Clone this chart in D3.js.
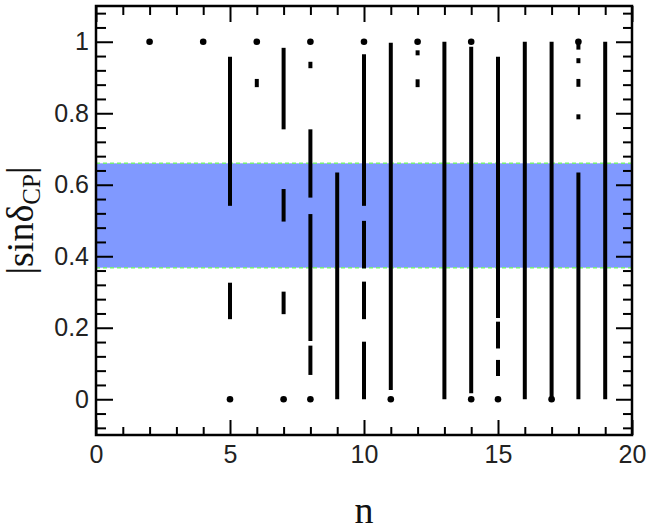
<!DOCTYPE html>
<html>
<head>
<meta charset="utf-8">
<script src="https://cdn.jsdelivr.net/npm/d3@7"></script>
<style>
  html, body { margin: 0; padding: 0; background: #ffffff; }
  svg { display: block; }
</style>
</head>
<body>
<svg id="chart" width="655" height="530"></svg>
<script>
// ---- data ----
const xDomain = [0, 20];
const yDomain = [-0.1, 1.1];
const xMajorTicks = [0, 5, 10, 15, 20];
const yMajorTicks = [0, 0.2, 0.4, 0.6, 0.8, 1];
const yTickLabels = ["0", "0.2", "0.4", "0.6", "0.8", "1"];
const bandRange = [0.368, 0.66];

// vertical segments: n, low, high
const segN  = [5, 5, 6, 7, 7, 7, 8, 8, 8, 8, 9, 10, 10, 10, 10, 11, 12, 12, 13, 14, 15, 15, 15, 16, 17, 18, 18, 18, 18, 18, 19];
const segLo = [0.224, 0.541, 0.873, 0.755, 0.497, 0.238, 0.926, 0.564, 0.163, 0.068, 0.0, 0.541, 0.366, 0.224, 0.0, 0.026, 0.962, 0.873, 0.0, 0.017, 0.227, 0.142, 0.065, 0.0, 0.0, 0.978, 0.940, 0.874, 0.783, 0.0, 0.0];
const segHi = [0.326, 0.958, 0.896, 0.983, 0.588, 0.301, 0.944, 0.755, 0.518, 0.150, 0.634, 0.965, 0.499, 0.329, 0.161, 0.997, 0.976, 0.895, 1.0, 0.986, 0.958, 0.217, 0.110, 1.0, 1.0, 0.995, 0.954, 0.896, 0.797, 0.634, 1.0];

// isolated points: n, value
const dotN = [2, 4, 6, 8, 10, 12, 14, 18, 5, 7, 8, 11, 14, 15, 17];
const dotV = [1, 1, 1, 1, 1, 1, 1, 1, 0, 0, 0, 0, 0, 0, 0];

// ---- layout ----
const svg = d3.select("#chart");
const L = 96, R = 632, T = 6, B = 435;
const x = d3.scaleLinear().domain(xDomain).range([L, R]);
const y = d3.scaleLinear().domain(yDomain).range([B, T]);

// band
svg.append("rect")
  .attr("x", x(xDomain[0])).attr("width", x(xDomain[1]) - x(xDomain[0]))
  .attr("y", y(bandRange[1])).attr("height", y(bandRange[0]) - y(bandRange[1]))
  .attr("fill", "#8099ff");
bandRange.forEach(v => {
  svg.append("line")
    .attr("x1", x(xDomain[0])).attr("x2", x(xDomain[1]))
    .attr("y1", y(v)).attr("y2", y(v))
    .attr("stroke", "#77ee77").attr("stroke-width", 1.5)
    .attr("stroke-dasharray", "4,3");
});

// segments
const segs = segN.map((n, i) => ({n, lo: segLo[i], hi: segHi[i]}));
svg.append("g").selectAll("line").data(segs).join("line")
  .attr("x1", d => x(d.n)).attr("x2", d => x(d.n))
  .attr("y1", d => y(d.lo)).attr("y2", d => y(d.hi))
  .attr("stroke", "#000").attr("stroke-width", 4);

// dots
const dots = dotN.map((n, i) => ({n, v: dotV[i]}));
svg.append("g").selectAll("circle").data(dots).join("circle")
  .attr("cx", d => x(d.n)).attr("cy", d => y(d.v)).attr("r", 3.3)
  .attr("fill", "#000");

// axes with inward ticks
const xMinor = d3.range(0, 21, 1).filter(v => v % 5 !== 0);
const yMinor = d3.range(-0.08, 1.1, 0.04).map(v => +v.toFixed(2)).filter(v => Math.abs(Math.round(v / 0.2) * 0.2 - v) > 1e-6);

function drawAxis(axis, vals, len, transform) {
  const g = svg.append("g").attr("transform", transform)
    .call(axis.tickValues(vals).tickSize(len).tickFormat(""));
  g.select(".domain").remove();
  g.selectAll(".tick line").attr("stroke", "#000").attr("stroke-width", 2);
  return g;
}
// bottom
drawAxis(d3.axisTop(x), xMajorTicks, 15, `translate(0,${B})`);
drawAxis(d3.axisTop(x), xMinor, 8, `translate(0,${B})`);
// top
drawAxis(d3.axisBottom(x), xMajorTicks, 16, `translate(0,${T})`);
drawAxis(d3.axisBottom(x), xMinor, 9, `translate(0,${T})`);
// left
drawAxis(d3.axisRight(y), yMajorTicks, 17, `translate(${L},0)`);
drawAxis(d3.axisRight(y), yMinor, 10, `translate(${L},0)`);
// right
drawAxis(d3.axisLeft(y), yMajorTicks, 16, `translate(${R},0)`);
drawAxis(d3.axisLeft(y), yMinor, 9, `translate(${R},0)`);

// labels
const yLab = svg.append("g").attr("transform", `translate(${L},0)`)
  .call(d3.axisLeft(y).tickValues(yMajorTicks).tickSize(0).tickPadding(7)
    .tickFormat((d, i) => yTickLabels[i]));
yLab.select(".domain").remove();
yLab.selectAll("text").attr("font-family", "'Liberation Sans', Arial, sans-serif")
  .attr("font-size", 25).attr("fill", "#222");

const xLab = svg.append("g").attr("transform", `translate(0,${B})`)
  .call(d3.axisBottom(x).tickValues(xMajorTicks).tickSize(0).tickPadding(10)
    .tickFormat(d3.format("d")));
xLab.select(".domain").remove();
xLab.selectAll("text").attr("font-family", "'Liberation Sans', Arial, sans-serif")
  .attr("font-size", 25).attr("fill", "#222");

// frame
svg.append("rect").attr("x", L).attr("y", T).attr("width", R - L).attr("height", B - T)
  .attr("fill", "none").attr("stroke", "#000").attr("stroke-width", 2.5);

// axis titles
svg.append("text")
  .attr("x", (L + R) / 2).attr("y", 523)
  .attr("text-anchor", "middle")
  .attr("font-family", "'Liberation Serif', 'Times New Roman', serif")
  .attr("font-size", 38).attr("fill", "#111")
  .text("n");

const yt = svg.append("text")
  .attr("transform", `translate(33,${(T + B) / 2}) rotate(-90)`)
  .attr("text-anchor", "middle")
  .attr("font-family", "'Liberation Serif', 'Times New Roman', serif")
  .attr("font-size", 38).attr("fill", "#111");
yt.append("tspan").text("|sin\u03B4");
yt.append("tspan").attr("font-size", 25).attr("dy", 7).text("CP");
yt.append("tspan").attr("dy", -7).text("|");
</script>
</body>
</html>
